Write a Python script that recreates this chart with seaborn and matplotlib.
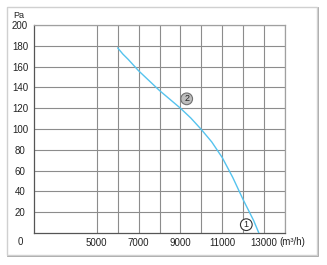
import matplotlib
matplotlib.use("Agg")
import matplotlib.pyplot as plt
import seaborn as sns
import pandas as pd
from matplotlib.patches import Rectangle

# Data
airflow = [6000, 6250, 6500, 7000, 7500, 8000, 8500, 9000, 9500, 10000, 10500, 11000, 11500, 12000, 12500, 12750]
pressure = [178, 172, 167, 156, 146.5, 137, 128.5, 120, 110.5, 99.5, 87.5, 72.5, 53.5, 32, 12, 0]
x_ticks = [5000, 7000, 9000, 11000, 13000]
x_grid = [5000, 6000, 7000, 8000, 9000, 10000, 11000, 12000, 13000, 14000]
y_ticks = [20, 40, 60, 80, 100, 120, 140, 160, 180, 200]

sns.set_style("white")
plt.rcParams['font.family'] = ['Liberation Sans', 'DejaVu Sans']

fig = plt.figure(figsize=(3.27, 2.65), dpi=100)

# outer frame with shadow
fig.patches.append(Rectangle((8/327, 1-256/265), 310/327, 248/265, transform=fig.transFigure,
                             fill=False, edgecolor='#9a9a9a', lw=1.2, zorder=-2))
fig.patches.append(Rectangle((7/327, 1-255/265), 310/327, 248/265, transform=fig.transFigure,
                             facecolor='white', edgecolor='#d0d0d0', lw=1.0, zorder=-1))

ax = fig.add_axes([34/327, 1-233/265, (285-34)/327, (233-25)/265])
ax.set_zorder(3)
ax.patch.set_alpha(0)

df = pd.DataFrame({"airflow": airflow, "pressure": pressure})
sns.lineplot(data=df, x="airflow", y="pressure", ax=ax, color='#55c3ee', lw=1.0, zorder=5)

ax.set_xlim(2000, 14000)
ax.set_ylim(0, 200)
for xv in x_grid:
    ax.axvline(xv, color='#8c8c8c', lw=0.8, zorder=1)
for yv in y_ticks:
    ax.axhline(yv, color='#8c8c8c', lw=0.8, zorder=1)

ax.set_xticks(x_ticks)
ax.set_xticklabels([str(v) for v in x_ticks], fontsize=7, color='#222222')
ax.set_yticks(y_ticks)
ax.set_yticklabels([str(v) for v in y_ticks], fontsize=7, color='#222222', ha='center')
ax.tick_params(axis='x', length=0, pad=3.6)
ax.tick_params(axis='y', length=0, pad=10)
ax.set_xlabel("")
ax.set_ylabel("")

for s in ['left', 'bottom']:
    ax.spines[s].set_color('#555555')
    ax.spines[s].set_linewidth(0.9)
for s in ['top', 'right']:
    ax.spines[s].set_color('#a0a0a0')
    ax.spines[s].set_linewidth(0.9)

ax.annotate("0", xy=(0, 0), xycoords='axes fraction', xytext=(-14, -9),
            textcoords='offset pixels', ha='center', va='center', fontsize=7, color='#222222')
ax.annotate("Pa", xy=(0, 1), xycoords='axes fraction', xytext=(-15, 9),
            textcoords='offset pixels', ha='center', va='center', fontsize=6.5, color='#222222')
ax.annotate("(m³/h)", xy=(13000, 0), xycoords='data', xytext=(15, -9),
            textcoords='offset pixels', ha='left', va='center', fontsize=7, color='#222222')

ax.text(9300, 129, "2", ha='center', va='center', fontsize=6.5, color='#222222', zorder=6,
        bbox=dict(boxstyle='circle,pad=0.15', fc='#bdbdbd', ec='#707070', lw=0.8))
ax.text(12150, 8, "1", ha='center', va='center', fontsize=6.5, color='#222222', zorder=6,
        bbox=dict(boxstyle='circle,pad=0.15', fc='white', ec='#333333', lw=0.8))

fig.savefig("out.png", dpi=100)
